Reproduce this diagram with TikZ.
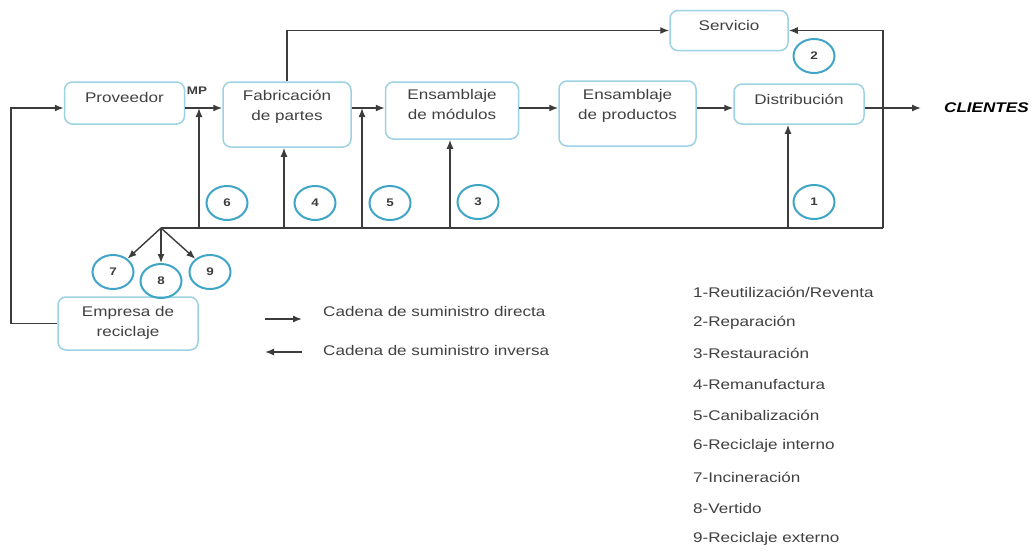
\documentclass[tikz,border=0pt]{standalone}
\usepackage{fontspec}
\setmainfont{Liberation Sans}[FakeStretch=1.22]
\usetikzlibrary{arrows.meta,shapes.geometric}
\definecolor{boxblue}{HTML}{9CD2E3}
\definecolor{ringblue}{HTML}{3FA5C6}
\definecolor{ink}{HTML}{3C3C3C}
\definecolor{txt}{HTML}{404040}
\begin{document}
\begin{tikzpicture}[x=1pt,y=-1pt,
  box/.style={draw=boxblue,line width=1.5pt,rounded corners=8pt,align=center,
    text=txt,font=\fontsize{14}{20}\selectfont,inner sep=0pt},
  oneline/.style={text height=10pt},
  twoline/.style={text height=30pt},
  ring/.style={ellipse,draw=ringblue,line width=2pt,minimum width=41pt,
    minimum height=34pt,inner sep=0pt,font=\fontsize{11}{11}\selectfont\bfseries,text=ink},
  link/.style={draw=ink,line width=1.4pt},
  arr/.style={link,-{Latex[length=9pt,width=7pt]}},
  lbl/.style={text=txt,font=\fontsize{14}{16}\selectfont,anchor=west,inner sep=0pt}]
\useasboundingbox (0,0) rectangle (1033,550);

% process boxes
\node[box,oneline,minimum width=120pt,minimum height=42pt,text depth=11pt] (prov) at (124.5,103) {Proveedor};
\node[box,twoline,minimum width=128pt,minimum height=65pt,text depth=18pt] (fab) at (287,114.5) {Fabricación\\de partes};
\node[box,twoline,minimum width=133pt,minimum height=57pt,text depth=13pt] (mod) at (452,110.5) {Ensamblaje\\de módulos};
\node[box,twoline,minimum width=137pt,minimum height=65pt,text depth=19pt] (prod) at (627.5,113.5) {Ensamblaje\\de productos};
\node[box,oneline,minimum width=130pt,minimum height=40pt,text depth=9pt] (dist) at (799,104) {Distribución};
\node[box,oneline,minimum width=118pt,minimum height=40pt,text depth=10pt] (serv) at (729,30.5) {Servicio};
\node[box,twoline,minimum width=140pt,minimum height=53pt,text depth=5pt] (emp) at (128,323.5) {Empresa de\\reciclaje};

\node[font=\fontsize{11}{11}\selectfont\bfseries,text=ink,inner sep=0pt] (mp) at (197,91) {MP};
\node[font=\fontsize{14}{14}\selectfont\bfseries\itshape,anchor=west,inner sep=0pt] (cl) at (944,108) {CLIENTES};

% numbered recovery options
\node[ring] (c1) at (814,202) {1};
\node[ring] (c2) at (814,56) {2};
\node[ring] (c3) at (478,202) {3};
\node[ring] (c4) at (315,203) {4};
\node[ring] (c5) at (390,203) {5};
\node[ring] (c6) at (227,203) {6};
\node[ring] (c7) at (113,272) {7};
\node[ring] (c8) at (161,281) {8};
\node[ring] (c9) at (210,272) {9};

% junction points
\coordinate (j1) at (199,108);
\coordinate (j2) at (362,108);
\coordinate (hub) at (161,228);
\coordinate (rc) at (883,228);
\coordinate (ret) at (11,108);
\coordinate (cend) at (921,108);

% forward chain
\draw[arr] (prov.east |- j1) -- (fab.west |- j1);
\draw[arr] (fab.east |- j1) -- (mod.west |- j1);
\draw[arr] (mod.east |- j1) -- (prod.west |- j1);
\draw[arr] (prod.east |- j1) -- (dist.west |- j1);
\draw[arr] (dist.east |- j1) -- (cend);
\draw[arr] (fab.north) |- (serv.west);

% reverse chain
\draw[link] (hub) -- (rc);
\draw[arr] (rc) |- (serv.east);
\draw[arr] (j1 |- hub) -- (j1);
\draw[arr] ([xshift=-3pt]fab.south |- hub) -- ([xshift=-3pt]fab.south);
\draw[arr] (j2 |- hub) -- (j2);
\draw[arr] ([xshift=-2pt]mod.south |- hub) -- ([xshift=-2pt]mod.south);
\draw[arr] ([xshift=-11pt]dist.south |- hub) -- ([xshift=-11pt]dist.south);
\draw[arr] (hub) -- (c7);
\draw[arr] (hub) -- (c8);
\draw[arr] (hub) -- (c9);
\draw[arr] (emp.west) -| (ret) -- (prov.west |- ret);

% legend
\coordinate (ld1) at (265,319);
\coordinate (ld2) at (302,319);
\coordinate (li1) at (302,352);
\coordinate (li2) at (265,352);
\draw[arr] (ld1) -- (ld2);
\draw[arr] (li1) -- (li2);
\node[lbl] (tdir) at (323,311) {Cadena de suministro directa};
\node[lbl] (tinv) at (323,350) {Cadena de suministro inversa};

\node[lbl] (k1) at (693,292) {1-Reutilización/Reventa};
\node[lbl] (k2) at (693,323) {2-Reparación};
\node[lbl] (k3) at (693,353) {3-Restauración};
\node[lbl] (k4) at (693,384) {4-Remanufactura};
\node[lbl] (k5) at (693,415) {5-Canibalización};
\node[lbl] (k6) at (693,446) {6-Reciclaje interno};
\node[lbl] (k7) at (693,477) {7-Incineración};
\node[lbl] (k8) at (693,508) {8-Vertido};
\node[lbl] (k9) at (693,539) {9-Reciclaje externo};
\end{tikzpicture}
\end{document}
